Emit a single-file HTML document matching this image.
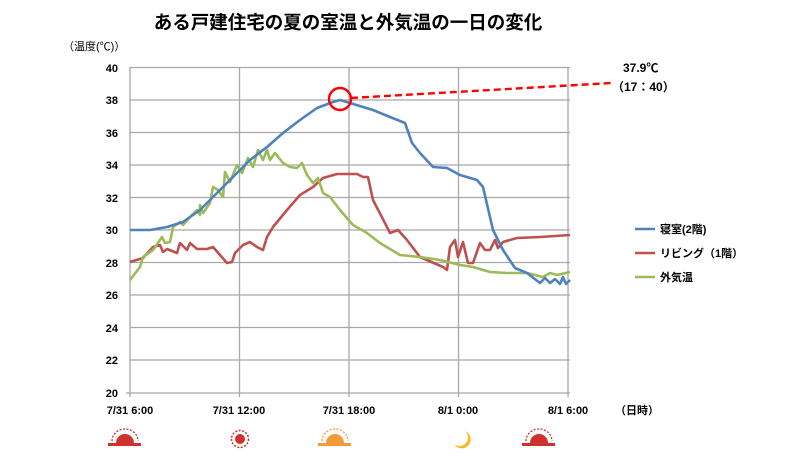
<!DOCTYPE html>
<html><head><meta charset="utf-8"><style>
body{margin:0;background:#fff}
svg text{font-family:"Liberation Sans","Noto Sans CJK JP",sans-serif;fill:#000}
</style></head><body>
<svg width="800" height="467" viewBox="0 0 800 467" xmlns="http://www.w3.org/2000/svg">
<text x="348" y="29" font-size="18.5" font-weight="bold" text-anchor="middle">ある戸建住宅の夏の室温と外気温の一日の変化</text>
<text x="63" y="50" font-size="11">（温度(℃)）</text>
<g stroke="#a8a8a8" stroke-width="1.3" fill="none">
<path d="M130 67.5H570M130 100H570M130 132.5H570M130 165H570M130 197.5H570M130 230H570M130 262.5H570M130 295H570M130 327.5H570M130 360H570"/>
<path d="M239.5 67V393M349 67V393M458.5 67V393M568 67V393"/>
<path d="M130 67V396M126 393H570M130 393V397M239.5 393V397M349 393V397M458.5 393V397M568 393V397"/>
</g>
<g font-size="11" text-anchor="end" font-weight="bold">
<text x="118" y="72">40</text><text x="118" y="104">38</text><text x="118" y="137">36</text><text x="118" y="169">34</text><text x="118" y="202">32</text><text x="118" y="234">30</text><text x="118" y="267">28</text><text x="118" y="299">26</text><text x="118" y="332">24</text><text x="118" y="364">22</text><text x="118" y="397">20</text>
</g>
<g font-size="11" text-anchor="middle" font-weight="bold">
<text x="130" y="414">7/31 6:00</text><text x="239" y="414">7/31 12:00</text><text x="349" y="414">7/31 18:00</text><text x="458" y="414">8/1 0:00</text><text x="568" y="414">8/1 6:00</text>
<text x="637" y="414">（日時）</text>
</g>
<g fill="none" stroke-width="2.6" stroke-linejoin="round">
<polyline stroke="#c0504d" points="130,262 143,258 153,247 160,245 163,252 167,249 177,253 180,243 187,250 190,243 197,249 207,249 213,247 220,255 227,263 232,262 235,253 243,245 250,242 257,247 263,250 267,237 273,227 287,210 300,195 313,187 323,178 337,174 357,174 363,177 368,177 373,200 387,227 390,233 398,230 407,240 420,257 443,267 447,270 450,247 455,240 458,257 463,242 468,263 473,263 480,243 485,250 490,250 495,240 498,248 503,242 517,238 540,237 570,235"/>
<polyline stroke="#9bbb59" points="130,280 140,267 143,257 153,250 162,237 165,243 170,242 173,227 180,222 183,225 190,217 197,210 200,215 200,205 203,213 210,203 213,187 218,190 223,197 225,172 230,182 237,165 242,173 248,158 253,167 258,150 263,160 267,150 270,160 275,153 283,163 290,167 297,168 302,163 307,175 313,183 318,178 323,193 330,197 340,210 353,225 367,233 380,243 400,255 420,257 440,260 460,265 473,267 490,272 507,273 527,273 543,277 550,273 557,275 570,272"/>
<polyline stroke="#4f81bd" points="130,230 150,230 167,227 183,222 200,210 217,193 233,177 250,160 267,147 283,133 300,120 317,108 333,102 340,100 373,110 390,117 405,123 412,143 420,153 433,167 447,168 460,175 477,180 483,187 493,230 503,250 515,268 527,273 540,283 545,278 550,283 555,279 560,284 563,277 566,284 570,280"/>
</g>
<circle cx="340" cy="99" r="11" fill="none" stroke="#ff0000" stroke-width="2.4"/>
<line x1="351" y1="98" x2="612" y2="83" stroke="#ff0000" stroke-width="2.4" stroke-dasharray="7,4"/>
<text x="623" y="72" font-size="12" font-weight="bold">37.9℃</text>
<text x="612" y="91" font-size="12" font-weight="bold">（17：40）</text>
<g stroke-width="2.6">
<line x1="635" y1="229" x2="655" y2="229" stroke="#4f81bd"/>
<line x1="635" y1="253" x2="655" y2="253" stroke="#c0504d"/>
<line x1="635" y1="277" x2="655" y2="277" stroke="#9bbb59"/>
</g>
<g font-size="11" font-weight="bold">
<text x="660" y="233">寝室(2階)</text><text x="660" y="257">リビング（1階）</text><text x="660" y="281">外気温</text>
</g>
<g>
<rect x="108" y="443" width="33" height="3" fill="#d0312d"/>
<path d="M116 443a9 9 0 0 1 18 0z" fill="#d0312d"/>
<path d="M112 441a13 12 0 0 1 26 0" fill="none" stroke="#d0312d" stroke-width="1.3" stroke-dasharray="2,1.5"/>
<circle cx="240" cy="439" r="5" fill="#d0312d"/>
<circle cx="240" cy="439" r="8.5" fill="none" stroke="#d0312d" stroke-width="1.5" stroke-dasharray="2,1.5"/>
<rect x="318" y="443" width="33" height="3" fill="#f59a3a"/>
<path d="M326 443a9 9 0 0 1 18 0z" fill="#f59a3a"/>
<path d="M322 441a13 12 0 0 1 26 0" fill="none" stroke="#f59a3a" stroke-width="1.3" stroke-dasharray="2,1.5"/>
<path d="M465 431a9 9 0 1 1-11 13a8 8 0 0 0 11-13z" fill="#fbb62b"/>
<rect x="522" y="443" width="33" height="3" fill="#d0312d"/>
<path d="M530 443a9 9 0 0 1 18 0z" fill="#d0312d"/>
<path d="M526 441a13 12 0 0 1 26 0" fill="none" stroke="#d0312d" stroke-width="1.3" stroke-dasharray="2,1.5"/>
</g>
</svg>
</body></html>
